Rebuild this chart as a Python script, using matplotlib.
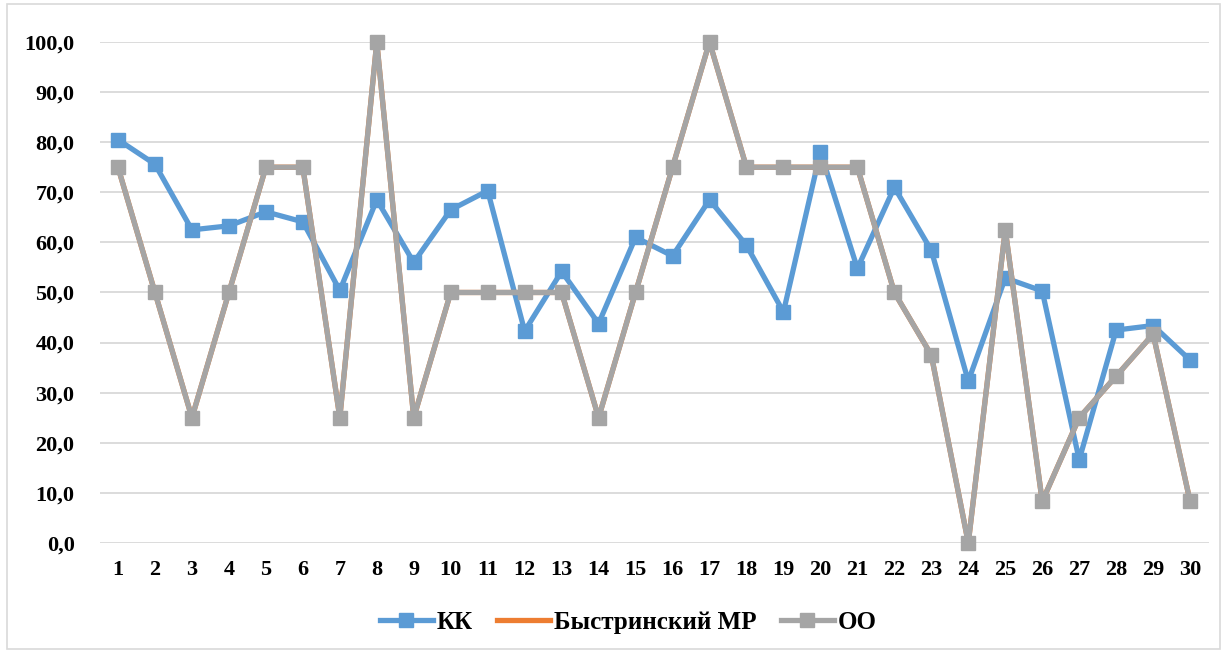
import matplotlib
matplotlib.use('Agg')
import matplotlib.pyplot as plt
from matplotlib.patches import Rectangle
from matplotlib.ticker import FuncFormatter

# Data
categories = list(range(1, 31))
kk = [80.5, 75.6, 62.5, 63.3, 66.1, 64.1, 50.4, 68.5, 56.0, 66.5,
      70.3, 42.3, 54.2, 43.8, 61.0, 57.3, 68.5, 59.4, 46.1, 78.1,
      54.8, 71.0, 58.4, 32.3, 52.9, 50.3, 16.6, 42.5, 43.4, 36.5]
bystr_mr = [75.0, 50.0, 25.0, 50.0, 75.0, 75.0, 25.0, 100.0, 25.0, 50.0,
            50.0, 50.0, 50.0, 25.0, 50.0, 75.0, 100.0, 75.0, 75.0, 75.0,
            75.0, 50.0, 37.5, 0.0, 62.5, 8.3, 25.0, 33.3, 41.7, 8.3]
oo = [75.0, 50.0, 25.0, 50.0, 75.0, 75.0, 25.0, 100.0, 25.0, 50.0,
      50.0, 50.0, 50.0, 25.0, 50.0, 75.0, 100.0, 75.0, 75.0, 75.0,
      75.0, 50.0, 37.5, 0.0, 62.5, 8.3, 25.0, 33.3, 41.7, 8.3]
series_names = ["КК", "Быстринский МР", "ОО"]

plt.rcParams['font.family'] = ['Liberation Serif', 'DejaVu Serif']
plt.rcParams['font.weight'] = 'bold'

fig = plt.figure(figsize=(12.27, 6.53), dpi=100)
ax = fig.add_axes([0.0811, 0.1685, 0.9039, 0.7672])

# outer chart frame
fig.patches.append(Rectangle((7 / 1227, 4 / 653), 1213 / 1227, 645 / 653,
                             transform=fig.transFigure, fill=False,
                             edgecolor='#d9d9d9', linewidth=1.2))

ax.plot(categories, kk, color='#5b9bd5', linewidth=3.8, marker='s',
        markersize=10, label=series_names[0], clip_on=False, zorder=3)
ax.plot(categories, bystr_mr, color='#ed7d31', linewidth=3.8,
        label=series_names[1], clip_on=False, zorder=4)
ax.plot(categories, oo, color='#a5a5a5', linewidth=3.8, marker='s',
        markersize=10, label=series_names[2], clip_on=False, zorder=5)

ax.set_xlim(0.5, 30.5)
ax.set_ylim(0, 100)
ax.set_yticks(range(0, 101, 10))
ax.set_xticks(categories)
ax.yaxis.set_major_formatter(FuncFormatter(lambda v, p: f"{v:.1f}".replace('.', ',')))
ax.grid(axis='y', color='#d9d9d9', linewidth=1.3)
ax.set_axisbelow(True)
for s in ax.spines.values():
    s.set_visible(False)
ax.tick_params(length=0, labelsize=16, pad=12)
ax.tick_params(axis='y', pad=18)
for lbl in ax.get_xticklabels() + ax.get_yticklabels():
    lbl.set_fontweight('bold')

leg = fig.legend(loc='center', bbox_to_anchor=(0.512, 0.047), ncol=3,
                 frameon=False, prop={'size': 18, 'weight': 'bold'},
                 handlelength=2.1, columnspacing=1.0, handletextpad=0.15)

fig.savefig('out.png', dpi=100)
